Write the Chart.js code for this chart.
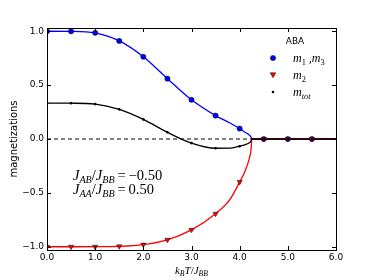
<!DOCTYPE html>
<html>
<head>
<meta charset="utf-8">
<script src="https://cdn.jsdelivr.net/npm/chart.js@4.4.1/dist/chart.umd.min.js"></script>
<style>
  html, body { margin: 0; padding: 0; background: #fff; }
  #wrap { width: 374px; height: 280px; }
</style>
</head>
<body>
<div id="wrap"><canvas id="chart"></canvas></div>
<script>
// sampled points (markers)
const markerT = [0, 0.5, 1.0, 1.5, 2.0, 2.5, 3.0, 3.5, 4.0, 4.5, 5.0, 5.5];
const markerM13 = [1.0, 0.999, 0.985, 0.91, 0.763, 0.56, 0.364, 0.217, 0.097, 0, 0, 0];
const markerM2 = [-1.0, -1.0, -0.999, -0.996, -0.98, -0.935, -0.843, -0.693, -0.398, 0, 0, 0];
const markerMtot = [0.333, 0.332, 0.324, 0.275, 0.182, 0.062, -0.038, -0.086, -0.068, 0, 0, 0];

// solid curves (denser near Tc)
const lineT = [0, 0.5, 1.0, 1.5, 2.0, 2.5, 3.0, 3.5, 3.8, 4.0, 4.1, 4.2, 4.24, 4.25, 6.0];
const lineM13 = [1.0, 0.999, 0.985, 0.91, 0.763, 0.56, 0.364, 0.217, 0.148, 0.097, 0.065, 0.038, 0.015, 0, 0];
const lineM2 = [-1.0, -1.0, -0.999, -0.996, -0.98, -0.935, -0.843, -0.693, -0.56, -0.398, -0.31, -0.18, -0.08, 0, 0];
const lineMtot = [0.333, 0.332, 0.324, 0.275, 0.182, 0.062, -0.038, -0.086, -0.085, -0.066, -0.055, -0.035, -0.017, 0, 0];

const zeroT = [0, 6];
const zeroM = [0, 0];

const xTicks = [0, 1, 2, 3, 4, 5, 6];
const yTicks = [-1.0, -0.5, 0.0, 0.5, 1.0];

const legendTitle = "ABA";
const legendLabels = [
  [{ t: "m" }, { t: "1", sub: true, up: true }, { t: " ," }, { t: "m" }, { t: "3", sub: true, up: true }],
  [{ t: "m" }, { t: "2", sub: true, up: true }],
  [{ t: "m" }, { t: "tot", sub: true }],
];
const noteLines = [
  [{ t: "J" }, { t: "AB", sub: true }, { t: "/", up: true }, { t: "J" }, { t: "BB", sub: true }, { t: "\u2009=\u2009\u22120.50", up: true }],
  [{ t: "J" }, { t: "AA", sub: true }, { t: "/", up: true }, { t: "J" }, { t: "BB", sub: true }, { t: "\u2009=\u20090.50", up: true }],
];
const xTitle = [{ t: "k" }, { t: "B", sub: true }, { t: "T" }, { t: "/", up: true }, { t: "J" }, { t: "BB", sub: true }];
const yTitle = "magnetizations";

const toXY = (xs, ys) => xs.map((x, i) => ({ x: x, y: ys[i] }));

const BLUE = "#0000ff";
const RED = "#ff0000";
const SERIF = '"Liberation Serif", "DejaVu Serif", serif';
const SANS = '"DejaVu Sans", sans-serif';

function mathWidth(ctx, parts, size) {
  let w = 0;
  parts.forEach((p) => {
    const s = p.sub ? size * 0.7 : size;
    ctx.font = `${p.up ? "" : "italic "}${s}px ${SERIF}`;
    w += ctx.measureText(p.t).width;
  });
  return w;
}

function drawMath(ctx, x, y, parts, size, align) {
  let cx = x;
  if (align === "center") cx = x - mathWidth(ctx, parts, size) / 2;
  ctx.textBaseline = "alphabetic";
  ctx.textAlign = "left";
  parts.forEach((p) => {
    const s = p.sub ? size * 0.7 : size;
    ctx.font = `${p.up ? "" : "italic "}${s}px ${SERIF}`;
    ctx.fillText(p.t, cx, p.sub ? y + size * 0.22 : y);
    cx += ctx.measureText(p.t).width;
  });
}

function drawMarker(ctx, kind, x, y) {
  ctx.save();
  ctx.lineWidth = 0.5;
  ctx.strokeStyle = "#000";
  if (kind === "circle") {
    ctx.fillStyle = BLUE;
    ctx.beginPath();
    ctx.arc(x, y, 2.6, 0, Math.PI * 2);
    ctx.fill();
    ctx.stroke();
  } else if (kind === "tri") {
    ctx.fillStyle = RED;
    ctx.beginPath();
    ctx.moveTo(x - 2.8, y - 2.2);
    ctx.lineTo(x + 2.8, y - 2.2);
    ctx.lineTo(x, y + 2.8);
    ctx.closePath();
    ctx.fill();
    ctx.stroke();
  } else {
    ctx.fillStyle = "#000";
    ctx.beginPath();
    ctx.arc(x, y, 1.3, 0, Math.PI * 2);
    ctx.fill();
  }
  ctx.restore();
}

const decorPlugin = {
  id: "decor",
  afterDraw(chart) {
    const ctx = chart.ctx;
    const a = chart.chartArea;
    const xs = chart.scales.x;
    const ys = chart.scales.y;
    ctx.save();
    // frame
    ctx.strokeStyle = "#000";
    ctx.lineWidth = 1;
    ctx.strokeRect(Math.round(a.left) + 0.5, Math.round(a.top) + 0.5,
      Math.round(a.right - a.left), Math.round(a.bottom - a.top));
    // inward ticks on all sides
    ctx.beginPath();
    xTicks.forEach((v) => {
      const px = Math.round(xs.getPixelForValue(v)) + 0.5;
      ctx.moveTo(px, a.bottom); ctx.lineTo(px, a.bottom - 4);
      ctx.moveTo(px, a.top); ctx.lineTo(px, a.top + 4);
    });
    yTicks.forEach((v) => {
      const py = Math.round(ys.getPixelForValue(v)) + 0.5;
      ctx.moveTo(a.left, py); ctx.lineTo(a.left + 4, py);
      ctx.moveTo(a.right, py); ctx.lineTo(a.right - 4, py);
    });
    ctx.stroke();

    // legend
    ctx.fillStyle = "#000";
    ctx.font = `9px ${SANS}`;
    ctx.textAlign = "center";
    ctx.textBaseline = "middle";
    ctx.fillText(legendTitle, 295, 42);
    const kinds = ["circle", "tri", "dot"];
    legendLabels.forEach((parts, i) => {
      const ly = 58 + i * 17;
      drawMarker(ctx, kinds[i], 273, ly);
      ctx.fillStyle = "#000";
      drawMath(ctx, 293, ly + 4, parts, 12, "left");
    });

    // parameter note
    noteLines.forEach((parts, i) => {
      drawMath(ctx, 73, 180 + i * 14, parts, 14.5, "left");
    });

    // axis titles
    drawMath(ctx, (a.left + a.right) / 2, 274, xTitle, 11, "center");
    ctx.save();
    ctx.translate(14, (a.top + a.bottom) / 2);
    ctx.rotate(-Math.PI / 2);
    ctx.font = `10px ${SANS}`;
    ctx.textAlign = "center";
    ctx.textBaseline = "middle";
    ctx.fillText(yTitle, 0, 0);
    ctx.restore();
    ctx.restore();
  },
};

const markerStyle = {
  showLine: false,
  borderColor: "#000",
  borderWidth: 0.5,
  pointHoverRadius: 0,
};

new Chart(document.getElementById("chart"), {
  type: "line",
  data: {
    datasets: [
      { ...markerStyle, label: "mtot pts", data: toXY(markerT, markerMtot), pointStyle: "circle", pointRadius: 1.3, backgroundColor: "#000", borderWidth: 0 },
      { ...markerStyle, label: "m2 pts", data: toXY(markerT, markerM2), pointStyle: "triangle", rotation: 180, pointRadius: 3, backgroundColor: RED },
      { ...markerStyle, label: "m13 pts", data: toXY(markerT, markerM13), pointStyle: "circle", pointRadius: 2.6, backgroundColor: BLUE },
      { label: "mtot", data: toXY(lineT, lineMtot), borderColor: "#000", borderWidth: 1.3, pointRadius: 0, cubicInterpolationMode: "monotone" },
      { label: "m2", data: toXY(lineT, lineM2), borderColor: RED, borderWidth: 1.3, pointRadius: 0, cubicInterpolationMode: "monotone" },
      { label: "m13", data: toXY(lineT, lineM13), borderColor: BLUE, borderWidth: 1.3, pointRadius: 0, cubicInterpolationMode: "monotone" },
      { label: "zero", data: toXY(zeroT, zeroM), borderColor: "#000", borderWidth: 1, borderDash: [4, 3], pointRadius: 0 },
    ],
  },
  options: {
    responsive: true,
    maintainAspectRatio: false,
    animation: false,
    layout: { padding: { left: 0, right: 38, top: 28, bottom: 0 } },
    plugins: { legend: { display: false }, tooltip: { enabled: false } },
    scales: {
      x: {
        type: "linear",
        min: 0,
        max: 6,
        afterFit: (s) => { s.height = 30; },
        afterBuildTicks: (s) => { s.ticks = xTicks.map((v) => ({ value: v })); },
        grid: { display: false, drawTicks: false },
        border: { display: false },
        ticks: { color: "#000", font: { family: SANS, size: 9 }, padding: 2, maxRotation: 0, callback: (v) => v.toFixed(1) },
      },
      y: {
        type: "linear",
        min: -1.03,
        max: 1.03,
        afterFit: (s) => { s.width = 47; },
        afterBuildTicks: (s) => { s.ticks = yTicks.map((v) => ({ value: v })); },
        grid: { display: false, drawTicks: false },
        border: { display: false },
        ticks: { color: "#000", font: { family: SANS, size: 9 }, padding: 3, callback: (v) => v.toFixed(1).replace("-", "\u2212") },
      },
    },
  },
  plugins: [decorPlugin],
});
</script>
</body>
</html>
